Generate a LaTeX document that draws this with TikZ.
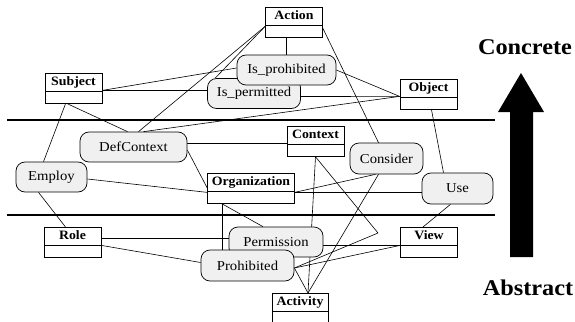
\documentclass[tikz,border=0pt]{standalone}
\usepackage{fontspec}
\setmainfont{Liberation Serif}[FakeStretch=1.08]
\usetikzlibrary{backgrounds}
\begin{document}
\begin{tikzpicture}[
        x=1pt, y=-1pt,
        classbox/.style={draw, fill=white, line width=0.8pt, inner xsep=4pt,
            inner ysep=0pt, minimum width=57pt, minimum height=30pt,
            anchor=north, font=\fontsize{12.8}{14}\selectfont\bfseries,
            text height=12.5pt, text depth=17.5pt,
            path picture={\draw[line width=0.8pt]
                ([yshift=-18pt]path picture bounding box.north west) --
                ([yshift=-18pt]path picture bounding box.north east);}},
        relation/.style={draw, fill=gray!12, line width=0.7pt,
            rounded corners=9pt, minimum height=30pt, inner sep=0pt,
            font=\fontsize{13.6}{15}\selectfont},
        link/.style={line width=0.6pt},
        level line/.style={line width=2pt},
        big label/.style={font=\fontsize{22.5}{26}\selectfont\bfseries}
        ]
        \useasboundingbox (0,0) rectangle (575,321);
        % Concrete level
        \node[classbox] (action) at (294,7) {Action};
        \node[classbox] (subject) at (73.5,73) {Subject};
        \node[classbox] (object) at (428.5,79) {Object};
        \node[relation, minimum width=93pt] (ispermitted) at (254,93.5) {Is\_permitted};
        \node[relation, minimum width=99pt] (isprohibited) at (286.5,70) {Is\_prohibited};
        % Middle level
        \node[classbox] (context) at (315.5,126) {Context};
        \node[classbox] (organization) at (251,173) {Organization};
        \node[relation, minimum width=107pt] (defcontext) at (133.5,147) {DefContext};
        \node[relation, minimum width=71pt] (employ) at (51.5,177) {Employ};
        \node[relation, minimum width=73pt, minimum height=31pt] (consider) at (386.5,158.5) {Consider};
        \node[relation, minimum width=71pt, minimum height=31pt] (use) at (457.5,188.5) {Use};
        % Abstract level
        \node[classbox] (role) at (72.5,227) {Role};
        \node[classbox] (view) at (429,227) {View};
        \node[classbox, minimum width=56pt] (activity) at (300,293) {Activity};
        \node[relation, minimum width=94pt] (permission) at (276,242) {Permission};
        \node[relation, minimum width=93pt, minimum height=31pt] (prohibited) at (247.5,265.5) {Prohibited};
        % Level lines
        \draw[level line] (7,120) -- (495,120);
        \draw[level line] (7,215) -- (495,215);
        % Arrow and labels
        \fill (510,257) -- (510,112) -- (498,112) -- (521,73) -- (544,112)
            -- (533,112) -- (533,257) -- cycle;
        \node[big label] (concrete) at (525,47) {Concrete};
        \node[big label] (abstract) at (528,288) {Abstract};
        % Links
        \begin{scope}[on background layer]
            \coordinate (objin) at ([yshift=-2pt]object.west);
            \coordinate (subjout) at ([yshift=-2pt]subject.east);
            \coordinate (actcorner) at ([yshift=-4pt]action.west);
            \coordinate (ctxin) at ([yshift=-2pt]context.west);
            \coordinate (orgout) at ([yshift=-4pt]organization.east);
            \coordinate (orgdown) at ([xshift=-29pt]organization.south);
            \coordinate (viewin) at ([yshift=-3pt]view.west);
            \coordinate (roleout) at ([yshift=4pt]role.east);
            \coordinate (prohout) at ([yshift=-2.5pt]prohibited.east);
            \coordinate (actin) at ([xshift=8pt]activity.north);
            \coordinate (bend) at (378,233);
            \draw[link] (action.south -| isprohibited.north) -- (isprohibited.north);
            \draw[link] (actcorner) -- ([xshift=8pt]ispermitted.north west);
            \draw[link] (actcorner) -- ([xshift=5pt]defcontext.north);
            \draw[link] ([yshift=-6pt]action.east) -- ([xshift=-8pt]consider.north);
            \draw[link] (isprohibited.east) -- (objin);
            \draw[link] ([yshift=-3pt]ispermitted.east) -- (objin);
            \draw[link] ([xshift=10pt]defcontext.north) -- (objin);
            \draw[link] (subjout) -- ([yshift=2pt]isprohibited.west);
            \draw[link] (subjout) -- (subjout -| ispermitted.west);
            \draw[link] ([xshift=-8pt]subject.south) -- ([xshift=-8pt]employ.north);
            \draw[link] ([xshift=-6pt]subject.south) -- ([xshift=-6pt]defcontext.north);
            \draw[link] (ctxin -| defcontext.east) -- (ctxin);
            \draw[link] ([yshift=-3pt]defcontext.east) -- (organization.west);
            \draw[link] ([yshift=-2pt]employ.east) -- ([yshift=-4pt]organization.west);
            \draw[link] ([xshift=-13pt]employ.south) -- ([xshift=-7pt]role.north);
            \draw[link] (orgout) -- ([xshift=-11pt]consider.south);
            \draw[link] (orgout) -- (orgout -| use.west);
            \draw[link] (orgdown) -- (orgdown |- prohibited.north);
            \draw[link] (orgdown) -- ([xshift=-13pt]permission.north);
            \draw[link] ([xshift=-8pt]consider.south) -- (actin);
            \draw[link] (context.south) -- (actin);
            \draw[link] (context.south) -- (bend) -- (prohout);
            \draw[link] (prohout) -- (viewin);
            \draw[link] (prohout) -- (actin);
            \draw[link] (viewin -| permission.east) -- (viewin);
            \draw[link] (roleout) -- (roleout -| permission.west);
            \draw[link] ([yshift=-3pt]role.east) -- ([yshift=3pt]prohibited.west);
            \draw[link] ([xshift=-14pt]use.north) -- ([xshift=3pt]object.south);
            \draw[link] ([xshift=-7pt]use.south) -- ([xshift=-6pt]view.north);
        \end{scope}
    \end{tikzpicture}
\end{document}
